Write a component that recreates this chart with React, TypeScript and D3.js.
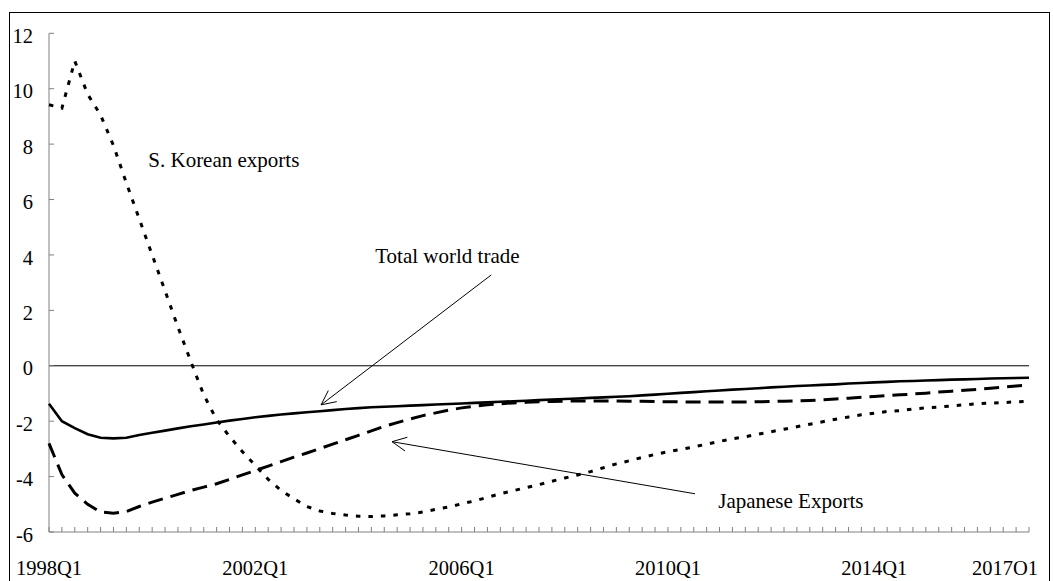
import React from "react";
import * as d3 from "d3";

// quarters 1998Q1 .. 2017Q1
const quarters: string[] = [];
for (let yr = 1998; yr <= 2017; yr++) {
  for (let q = 1; q <= 4; q++) {
    if (yr === 2017 && q > 1) break;
    quarters.push(`${yr}Q${q}`);
  }
}

const worldTrade = [
  -1.37, -2.0, -2.25, -2.47, -2.6, -2.62, -2.6, -2.5, -2.42, -2.34,
  -2.26, -2.18, -2.12, -2.05, -1.98, -1.92, -1.86, -1.81, -1.76, -1.72,
  -1.68, -1.64, -1.6, -1.56, -1.53, -1.5, -1.48, -1.46, -1.44, -1.42,
  -1.4, -1.38, -1.36, -1.34, -1.32, -1.3, -1.28, -1.26, -1.24, -1.22,
  -1.2, -1.18, -1.16, -1.14, -1.12, -1.1, -1.07, -1.04, -1.01, -0.98,
  -0.95, -0.92, -0.89, -0.86, -0.84, -0.81, -0.78, -0.76, -0.73, -0.71,
  -0.69, -0.67, -0.64, -0.62, -0.6, -0.58, -0.56, -0.55, -0.53, -0.52,
  -0.5, -0.49, -0.48, -0.46, -0.45, -0.44, -0.43,
];

const japanExports = [
  -2.8, -3.93, -4.6, -5.0, -5.28, -5.32, -5.26, -5.08, -4.92, -4.78,
  -4.64, -4.5, -4.38, -4.26, -4.1, -3.94, -3.78, -3.62, -3.46, -3.3,
  -3.15, -2.99, -2.83, -2.67, -2.51, -2.35, -2.19, -2.05, -1.92, -1.8,
  -1.7, -1.6, -1.52, -1.46, -1.41, -1.37, -1.34, -1.32, -1.3, -1.29,
  -1.28, -1.27, -1.27, -1.27, -1.27, -1.28, -1.28, -1.29, -1.3, -1.3,
  -1.31, -1.31, -1.31, -1.31, -1.31, -1.3, -1.29, -1.28, -1.27, -1.25,
  -1.23, -1.2, -1.17, -1.14, -1.11, -1.08, -1.05, -1.02, -0.99, -0.95,
  -0.92, -0.88, -0.85, -0.81, -0.77, -0.73, -0.69,
];

const koreaExports = [
  9.42, 9.3, 11.0, 9.8, 9.05, 7.95, 6.6, 5.3, 4.0, 2.7,
  1.4, 0.15, -1.05, -1.95, -2.55, -3.1, -3.6, -4.1, -4.5, -4.8,
  -5.08, -5.24, -5.33, -5.39, -5.43, -5.44, -5.42, -5.38, -5.34, -5.28,
  -5.18, -5.1, -4.98, -4.88, -4.75, -4.62, -4.51, -4.4, -4.29, -4.17,
  -4.05, -3.94, -3.82, -3.68, -3.54, -3.43, -3.31, -3.2, -3.1, -3.02,
  -2.93, -2.83, -2.73, -2.64, -2.56, -2.47, -2.38, -2.29, -2.2, -2.11,
  -2.02, -1.93, -1.85, -1.77, -1.71, -1.65, -1.62, -1.56, -1.52, -1.49,
  -1.45, -1.41, -1.37, -1.35, -1.33, -1.3, -1.29,
];

const yTicks = [-6, -4, -2, 0, 2, 4, 6, 8, 10, 12];
const xLabels = [
  { q: "1998Q1", text: "1998Q1" },
  { q: "2002Q1", text: "2002Q1" },
  { q: "2006Q1", text: "2006Q1" },
  { q: "2010Q1", text: "2010Q1" },
  { q: "2014Q1", text: "2014Q1" },
  { q: "2017Q1", text: "2017O1" },
];

// annotations in data space: [quarter index, value]
const labels = [
  { text: "S. Korean exports", at: [7.7, 7.18] },
  { text: "Total world trade", at: [25.3, 3.72] },
  { text: "Japanese Exports", at: [51.9, -5.12] },
];
const arrows = [
  { from: [34.3, 3.28], to: [21.1, -1.41] },
  { from: [50.1, -4.62], to: [26.6, -2.74] },
];

const width = 1053;
const height = 581;
const font = "'Liberation Serif', 'Times New Roman', serif";

export default function App() {
  const x = d3.scaleLinear([0, quarters.length - 1], [49, 1029]);
  const y = d3.scaleLinear([-6, 12], [532, 33.3]);
  const line = d3.line<number>((d, i) => x(i), (d) => y(d));

  const arrowHead = (a: { from: number[]; to: number[] }) => {
    const x1 = x(a.from[0]), y1 = y(a.from[1]);
    const x2 = x(a.to[0]), y2 = y(a.to[1]);
    const ang = Math.atan2(y1 - y2, x1 - x2);
    const len = 16, spread = 0.45;
    const p1 = [x2 + len * Math.cos(ang + spread), y2 + len * Math.sin(ang + spread)];
    const p2 = [x2 + len * Math.cos(ang - spread), y2 + len * Math.sin(ang - spread)];
    return `M${x1},${y1}L${x2},${y2}M${p1[0]},${p1[1]}L${x2},${y2}L${p2[0]},${p2[1]}`;
  };

  return (
    <svg width={width} height={height} style={{ position: "absolute", left: 0, top: 0, background: "#fff" }}>
      <rect x={9.5} y={12.5} width={1040} height={620} fill="#fff" stroke="#000" strokeWidth={1} />

      {/* zero line */}
      <line x1={x(0)} x2={x(quarters.length - 1)} y1={y(0)} y2={y(0)} stroke="#000" strokeWidth={1} />

      {/* y axis */}
      <line x1={x(0)} x2={x(0)} y1={y(12)} y2={y(-6)} stroke="#808080" strokeWidth={1} />
      {yTicks.map((t) => (
        <g key={t}>
          <line x1={x(0)} x2={x(0) + 5} y1={y(t)} y2={y(t)} stroke="#808080" />
          <text x={33} y={y(t) + 9.7} textAnchor="end" fontFamily={font} fontSize={20.5} fill="#000">
            {t < 0 ? `-${-t}` : `${t}`}
          </text>
        </g>
      ))}

      {/* x axis */}
      <line x1={x(0)} x2={x(quarters.length - 1)} y1={y(-6)} y2={y(-6)} stroke="#808080" strokeWidth={1} />
      {quarters.map((q, i) => (
        <line key={q} x1={x(i)} x2={x(i)} y1={y(-6)} y2={y(-6) - 5} stroke="#808080" />
      ))}
      {xLabels.map((l, k) => {
        const i = quarters.indexOf(l.q);
        const last = k === xLabels.length - 1;
        return (
          <text key={l.q} x={last ? 1038 : x(i)} y={575} textAnchor={last ? "end" : "middle"}
            fontFamily={font} fontSize={20.5} fill="#000">
            {l.text}
          </text>
        );
      })}

      {/* series */}
      <path d={line(worldTrade) ?? ""} fill="none" stroke="#000" strokeWidth={2.6} />
      <path d={line(japanExports) ?? ""} fill="none" stroke="#000" strokeWidth={3} strokeDasharray="15,8" />
      <path d={line(koreaExports) ?? ""} fill="none" stroke="#000" strokeWidth={3} strokeDasharray="4.5,8" />

      {/* annotations */}
      {arrows.map((a, k) => (
        <path key={k} d={arrowHead(a)} fill="none" stroke="#000" strokeWidth={1} />
      ))}
      {labels.map((l) => (
        <text key={l.text} x={x(l.at[0])} y={y(l.at[1])} fontFamily={font} fontSize={21} fill="#000">
          {l.text}
        </text>
      ))}
    </svg>
  );
}
